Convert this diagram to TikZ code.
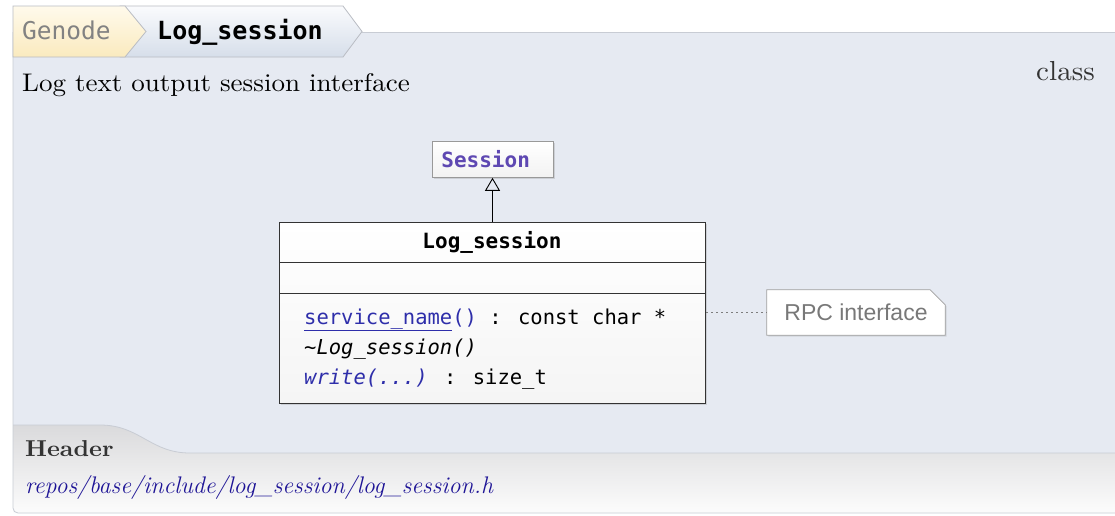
\documentclass[tikz,border=0pt]{standalone}
\usepackage{fontspec}
\newfontfamily\monof{DejaVu Sans Mono}
\newfontfamily\sansf{Liberation Sans}
\newfontfamily\palfont{lmroman10-regular.otf}[FakeStretch=1.06, BoldFont=lmroman10-bold.otf]
\usetikzlibrary{arrows.meta,shadows}
\definecolor{panelbg}{RGB}{230,234,242}
\definecolor{panelline}{RGB}{200,204,212}
\definecolor{hdrtop}{RGB}{218,218,220}
\definecolor{hdrbot}{RGB}{252,252,252}
\definecolor{crumbline}{RGB}{185,188,195}
\definecolor{yellowtop}{RGB}{255,250,236}
\definecolor{yellowbot}{RGB}{250,234,190}
\definecolor{bluetop}{RGB}{250,251,253}
\definecolor{bluebot}{RGB}{214,222,234}
\definecolor{sesscol}{RGB}{94,72,178}
\definecolor{linkcol}{RGB}{46,46,170}
\definecolor{pathcol}{RGB}{30,20,150}
\definecolor{darktext}{RGB}{51,51,51}
\definecolor{notetext}{RGB}{120,120,120}
\definecolor{crumbgray}{RGB}{130,130,130}
\definecolor{notebd}{RGB}{160,160,160}
\definecolor{dotcol}{RGB}{125,125,125}
\tikzset{
  crumbtxt/.style={anchor=base west, inner sep=0pt},
  sessbox/.style={draw=gray!80, line width=0.8pt, top color=white, bottom color=gray!10,
    drop shadow={opacity=0.25, shadow xshift=1.5pt, shadow yshift=-1.5pt}},
  classbox/.style={draw=black!80, line width=1pt, top color=white, bottom color=gray!8,
    drop shadow={opacity=0.25, shadow xshift=1.5pt, shadow yshift=-1.5pt}},
  optxt/.style={anchor=base west, inner sep=0pt, font=\monof\fontsize{20.5}{24}\selectfont},
  notebox/.style={draw=notebd, line width=0.8pt, fill=white,
    drop shadow={opacity=0.2, shadow xshift=1.5pt, shadow yshift=-1.5pt}},
}
\begin{document}
\begin{tikzpicture}[x=1pt,y=-1pt]
\useasboundingbox (0,0) rectangle (1115,515);
\fill[white] (0,0) rectangle (1115,515);
% panel
\fill[panelbg] (13,32) rectangle (1116,460);
\draw[panelline, line width=0.8pt] (362,32) -- (1116,32);
% header section
\shade[top color=hdrtop, bottom color=hdrbot] (13,425) -- (100,425) .. controls (140,425) and (150,453) .. (190,453) -- (1116,453) -- (1116,513) -- (13,513) -- cycle;
\draw[panelline, line width=0.8pt] (13,425) -- (100,425) .. controls (140,425) and (150,453) .. (190,453) -- (1116,453);
\draw[panelline, line width=0.8pt, rounded corners=5pt] (13,32) -- (13,513) -- (1116,513);
% breadcrumb
\shade[top color=bluetop, bottom color=bluebot, draw=crumbline, line width=0.8pt] (120,6) -- (343,6) -- (362,31.5) -- (343,57) -- (120,57) -- cycle;
\shade[top color=yellowtop, bottom color=yellowbot, draw=crumbline, line width=0.8pt] (13,57) -- (13,6) -- (125,6) -- (146,31.5) -- (125,57) -- cycle;
\node[crumbtxt, font=\monof\fontsize{24.5}{28}\selectfont, text=crumbgray] (bc1) at (22,39.5) {Genode};
\node[crumbtxt, font=\monof\bfseries\fontsize{25}{28}\selectfont, text=black] (bc2) at (157,39.5) {Log\_session};
% description
\node[anchor=base west, inner sep=0pt, font=\palfont\fontsize{25.5}{30}\selectfont, text=black] (desc) at (22,91) {Log text output session interface};
\node[anchor=base east, inner sep=0pt, font=\palfont\fontsize{27.5}{32}\selectfont, text=darktext] (kind) at (1095,80.5) {class};
% Session box
\node[sessbox, anchor=north west, minimum height=36pt, inner xsep=9pt, inner ysep=0pt, text width=103pt,
  font=\monof\bfseries\fontsize{21}{24}\selectfont, text=sesscol] (sess) at (432,141) {Session};
% class box
\node[classbox, anchor=north west, minimum width=426pt, minimum height=181pt] (cls) at (279,222) {};
\draw[black!80, line width=1pt] (279,262) -- (705,262);
\draw[black!80, line width=1pt] (279,293) -- (705,293);
\node[anchor=base, inner sep=0pt, font=\monof\bfseries\fontsize{21}{24}\selectfont] (ttl) at (492,248) {Log\_session};
\node[optxt] (op1) at (304,324) {\textcolor{linkcol}{\underline{service\_name}()} : const char *};
\node[optxt] (op2) at (304,354) {\itshape \textasciitilde Log\_session()};
\node[optxt] (op3) at (304,384) {\textcolor{linkcol}{\itshape write(...)} : size\_t};
% inheritance arrow
\draw[black, line width=0.9pt, -{Triangle[open, length=13pt, width=15pt]}] (cls.north) -- (sess.south -| cls.north);
% note
\path node[minimum width=178pt, minimum height=45pt, inner sep=0pt] (note) at (856,312.5) {};
\path[notebox] (note.north west) -- ([xshift=-15pt]note.north east) -- ([yshift=-15pt]note.north east) -- (note.south east) -- (note.south west) -- cycle;
\node[inner sep=0pt, font=\sansf\fontsize{23}{26}\selectfont, text=notetext] (notetxt) at (note.center) {RPC interface};
\draw[dotcol, line width=1.5pt, dash pattern=on 1.5pt off 3.5pt] (cls.east |- note.west) -- (note.west);
% header texts
\node[anchor=base west, inner sep=0pt, font=\palfont\bfseries\fontsize{23}{26}\selectfont, text=darktext] (hdr) at (25,456) {Header};
\node[anchor=base west, inner sep=0pt, font=\itshape\fontsize{24}{28}\selectfont, text=pathcol] (path) at (25,493) {repos/base/include/log\_session/log\_session.h};
\end{tikzpicture}
\end{document}
